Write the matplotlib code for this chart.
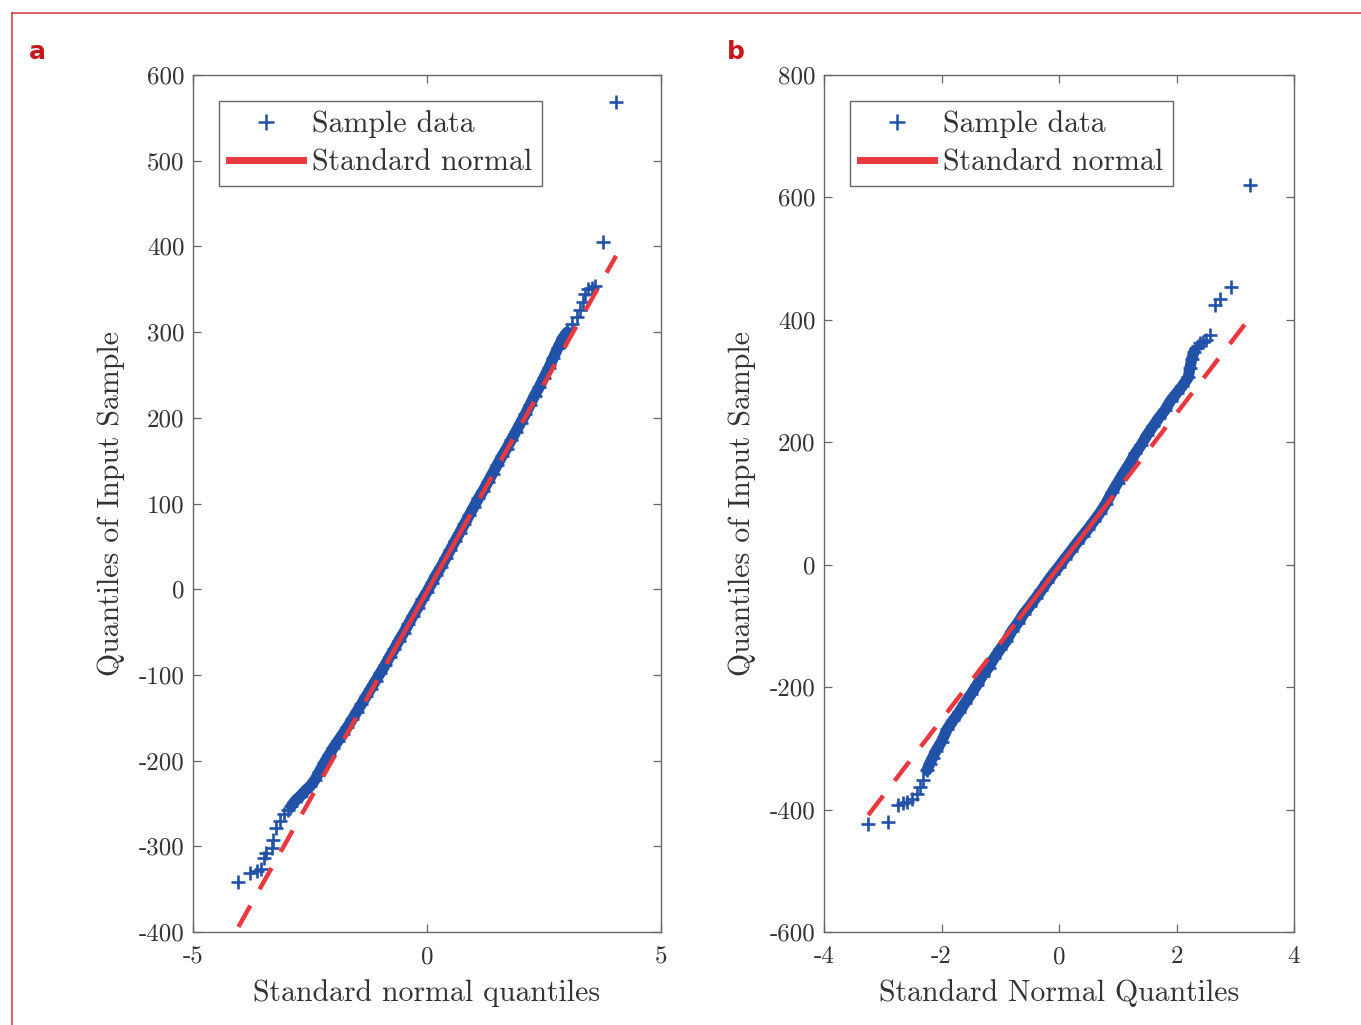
import numpy as np
import matplotlib.pyplot as plt
from matplotlib.lines import Line2D

plt.rcParams['font.family'] = ['cmr10', 'DejaVu Serif']
plt.rcParams['mathtext.fontset'] = 'cm'
plt.rcParams['axes.unicode_minus'] = False

# panel a: theoretical quantile vs sample quantile
a_theo = [-4.03, -3.78, -3.64, -3.55, -3.48, -3.43, -3.32, -3.29, -3.22, -3.14, -3.05, -2.98,
          -2.9, -2.8, -2.7, -2.6, -2.5, -2.4, -2.3, -2.2, -2.1, -2.0,
          -1.9, -1.8, -1.7, -1.6, -1.5, -1.4, -1.3, -1.2, -1.1, -1.0,
          -0.9, -0.8, -0.7, -0.6, -0.5, -0.4, -0.3, -0.2, -0.1, 0.0,
          0.1, 0.2, 0.3, 0.4, 0.5, 0.6, 0.7, 0.8, 0.9, 1.0,
          1.1, 1.2, 1.3, 1.4, 1.5, 1.6, 1.7, 1.8, 1.9, 2.0,
          2.1, 2.2, 2.3, 2.4, 2.5, 2.6, 2.7, 2.8, 2.9, 3.0,
          3.1, 3.2, 3.27, 3.33, 3.38, 3.45, 3.52, 3.6, 3.77, 4.04]
a_samp = [-342, -331, -329, -327, -314, -308, -302, -293, -279, -270, -262, -258,
          -253, -246, -241, -235, -230, -223, -213, -203, -194, -185,
          -177, -169, -161, -152, -143, -134, -125, -116, -107, -98,
          -89, -79, -70, -60, -51, -41, -31, -22, -12, -3,
          7, 17, 26, 36, 46, 56, 66, 76, 86, 96,
          106, 115, 125, 135, 145, 155, 164, 174, 184, 194,
          204, 215, 226, 236, 247, 258, 270, 282, 293, 300,
          310, 318, 326, 335, 345, 350, 352, 354, 405, 568]
# reference line through the first and third quartiles
a_quart_x = [-0.674, 0.674]
a_quart_y = [-68.4, 62.4]

# panel b
b_theo = [-3.246, -2.905, -2.735, -2.66, -2.58, -2.507, -2.42, -2.37, -2.31, -2.25, -2.20, -2.15,
          -2.1, -2.0, -1.9, -1.8, -1.7, -1.6, -1.5, -1.4, -1.3, -1.2, -1.1, -1.0,
          -0.9, -0.8, -0.7, -0.6, -0.5, -0.4, -0.3, -0.2, -0.1, 0.0,
          0.1, 0.2, 0.3, 0.4, 0.5, 0.6, 0.7, 0.8, 0.9, 1.0,
          1.1, 1.2, 1.3, 1.4, 1.5, 1.6, 1.7, 1.8, 1.9, 2.0, 2.1, 2.2,
          2.23, 2.26, 2.30, 2.34, 2.37, 2.40, 2.45, 2.51, 2.57, 2.655, 2.74, 2.92, 3.25]
b_samp = [-424, -420, -393, -390, -387, -383, -374, -363, -352, -336, -325, -315,
          -305, -289, -268, -254, -241, -226, -212, -197, -181, -168, -152, -138,
          -125, -108, -95, -80, -68, -55, -42, -28, -15, -3,
          10, 22, 35, 47, 59, 72, 85, 100, 118, 134,
          150, 165, 182, 196, 212, 226, 240, 252, 268, 280, 292, 306,
          322, 336, 348, 354, 358, 362, 364, 367, 376, 424, 434, 453, 620]
b_quart_x = [-0.674, 0.674]
b_quart_y = [-87.3, 81.3]

BLUE = '#2152a8'
RED = '#e9393f'
AXC = '#666666'
TXT = '#333333'
W, H = 1361, 1025


def qq_panel(ax, theo, samp, qx, qy, band, xlim, xticks, ylim, yticks, xlabel):
    theo = np.array(theo)
    samp = np.array(samp)
    dense = (theo >= band[0]) & (theo <= band[1])
    ax.plot(theo[dense], samp[dense], color=BLUE, lw=8, solid_capstyle='round', zorder=2)
    ax.plot(theo, samp, ls='none', marker='+', ms=10.5, mew=1.9, color=BLUE, zorder=3)

    slope = (qy[1] - qy[0]) / (qx[1] - qx[0])
    lo, hi = theo.min(), theo.max()
    y_lo = qy[0] + slope * (lo - qx[0])
    y_hi = qy[0] + slope * (hi - qx[0])
    dash = (0, (5.5, 4.2))
    ax.plot([lo, qx[0]], [y_lo, qy[0]], color=RED, lw=3.2, ls=dash, zorder=4)
    ax.plot([qx[1], hi], [qy[1], y_hi], color=RED, lw=3.2, ls=dash, zorder=4)
    ax.plot(qx, qy, color=RED, lw=3.2, zorder=4)

    ax.set_xlim(xlim)
    ax.set_ylim(ylim)
    ax.set_xticks(xticks, labels=[str(t) for t in xticks])
    ax.set_yticks(yticks, labels=[str(t) for t in yticks])
    ax.tick_params(direction='in', length=6, width=0.9, color=AXC, labelcolor=TXT,
                   labelsize=18, top=True, right=True)
    ax.tick_params(axis='x', pad=10)
    ax.tick_params(axis='y', pad=6)
    for s in ax.spines.values():
        s.set_color(AXC)
        s.set_linewidth(1.0)
    ax.set_xlabel(xlabel, fontsize=21.5, color=TXT, labelpad=8)
    ax.set_ylabel('Quantiles of Input Sample', fontsize=21.5, color=TXT, labelpad=10)

    handles = [Line2D([], [], ls='none', marker='+', ms=11, mew=1.8, color=BLUE),
               Line2D([], [], color=RED, lw=5)]
    leg = ax.legend(handles, ['Sample data', 'Standard normal'], loc='upper left',
                    bbox_to_anchor=(26 / 468, 1 - 26 / 857), borderaxespad=0,
                    fontsize=21.5, fancybox=False, framealpha=1, edgecolor=AXC,
                    handlelength=2.5, handletextpad=0.3, labelspacing=0.36,
                    borderpad=0.32)
    leg.get_frame().set_linewidth(1.0)
    for t in leg.get_texts():
        t.set_color(TXT)


fig = plt.figure(figsize=(W / 100, H / 100), dpi=100)
ax_a = fig.add_axes([193 / W, 1 - 932 / H, 468 / W, 857 / H])
ax_b = fig.add_axes([824 / W, 1 - 932 / H, 470 / W, 857 / H])

qq_panel(ax_a, a_theo, a_samp, a_quart_x, a_quart_y, (-2.95, 3.05),
         (-5, 5), [-5, 0, 5], (-400, 600), list(range(-400, 601, 100)),
         'Standard normal quantiles')
qq_panel(ax_b, b_theo, b_samp, b_quart_x, b_quart_y, (-2.3, 2.31),
         (-4, 4), [-4, -2, 0, 2, 4], (-600, 800), list(range(-600, 801, 200)),
         'Standard Normal Quantiles')

# red frame on top and left edge
frame_c = '#d9464c'
fig.add_artist(Line2D([12 / W, 1], [1 - 13 / H, 1 - 13 / H], transform=fig.transFigure,
                      color=frame_c, lw=1.2))
fig.add_artist(Line2D([12 / W, 12 / W], [0, 1 - 13 / H], transform=fig.transFigure,
                      color=frame_c, lw=1.2))

for lab, xp in [('a', 37), ('b', 736)]:
    fig.text(xp / W, 1 - 52 / H, lab, ha='center', va='center', fontsize=18,
             fontweight='heavy', color='#c8161d', family='DejaVu Sans')

fig.savefig('out.png', dpi=100)
